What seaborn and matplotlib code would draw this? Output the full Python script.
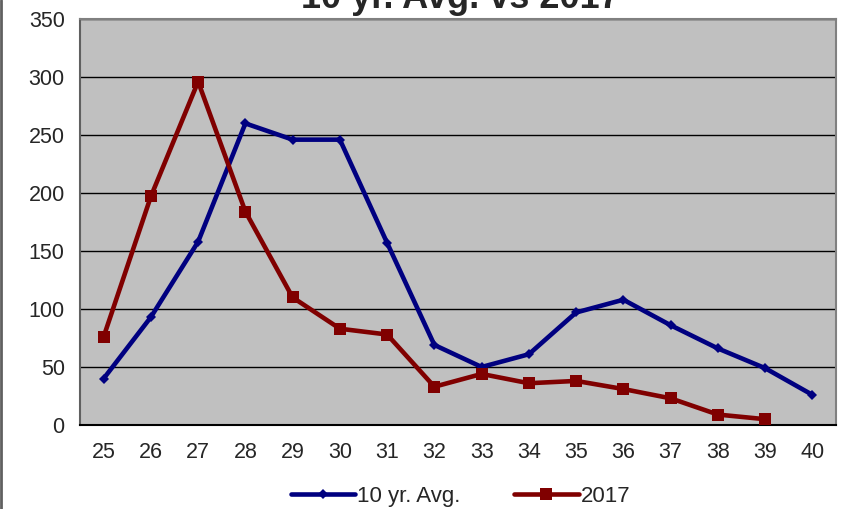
import numpy as np
import seaborn as sns
import pandas as pd
import matplotlib.pyplot as plt

weeks = list(range(25, 41))
avg_10yr = [40, 93, 158, 260, 246, 246, 157, 69, 50, 61, 97, 108, 86, 66, 49, 26]
y2017 = [76, 197, 296, 184, 110, 83, 78, 33, 44, 36, 38, 31, 23, 9, 5, np.nan]

df = pd.DataFrame({
    "week": weeks * 2,
    "value": avg_10yr + y2017,
    "series": ["10 yr. Avg."] * len(weeks) + ["2017"] * len(weeks),
})

sns.set_style("white")
plt.rcParams["font.family"] = ["Liberation Sans", "DejaVu Sans"]

fig = plt.figure(figsize=(8.45, 5.09), dpi=100)
ax = fig.add_axes([80 / 845, 1 - 425 / 509, 756 / 845, 406 / 509])
ax.set_facecolor("#C0C0C0")

sns.lineplot(data=df, x="week", y="value", hue="series", style="series",
             palette={"10 yr. Avg.": "#000080", "2017": "#800000"},
             markers={"10 yr. Avg.": "D", "2017": "s"}, dashes=False,
             linewidth=3.3, markeredgewidth=0, ax=ax, zorder=3)
for ln in ax.lines:
    if ln.get_marker() == "D":
        ln.set_markersize(5)
    else:
        ln.set_markersize(8)

ax.set_xlim(24.5, 40.5)
ax.set_ylim(0, 350)
ax.set_yticks(range(0, 351, 50))
ax.yaxis.grid(True, color="black", linewidth=1)
ax.set_axisbelow(True)

ax.set_xticks(np.arange(24.5, 41, 1))
ax.set_xticklabels([])
ax.set_xticks(weeks, minor=True)
ax.set_xticklabels([str(w) for w in weeks], minor=True)
ax.tick_params(axis="x", which="major", length=8, width=1, color="black", direction="out")
ax.tick_params(axis="x", which="minor", length=0, pad=12, labelsize=15.5)
ax.tick_params(axis="y", length=6, width=1, color="black", direction="out", labelsize=15.5, pad=5)
ax.set_xlabel("")
ax.set_ylabel("")

for s in ax.spines.values():
    s.set_color("#808080")
    s.set_linewidth(1.5)
ax.spines["bottom"].set_color("black")
ax.spines["left"].set_color("#606060")

handles, labels = ax.get_legend_handles_labels()
ax.legend(handles, labels, loc="lower center", bbox_to_anchor=(0.545, -0.014),
          bbox_transform=fig.transFigure, ncol=2, frameon=False, fontsize=16,
          handlelength=2.9, columnspacing=2.4, handletextpad=0.1, borderaxespad=0)

fig.text(0.545, 1 - 8 / 509, "10 yr. Avg. vs 2017", ha="center", va="baseline",
         fontsize=26, fontweight="bold")

fig.add_artist(plt.Line2D([0.001, 0.001], [0, 1], color="#606060", linewidth=2,
                          transform=fig.transFigure))

fig.savefig("out.png", dpi=100)
